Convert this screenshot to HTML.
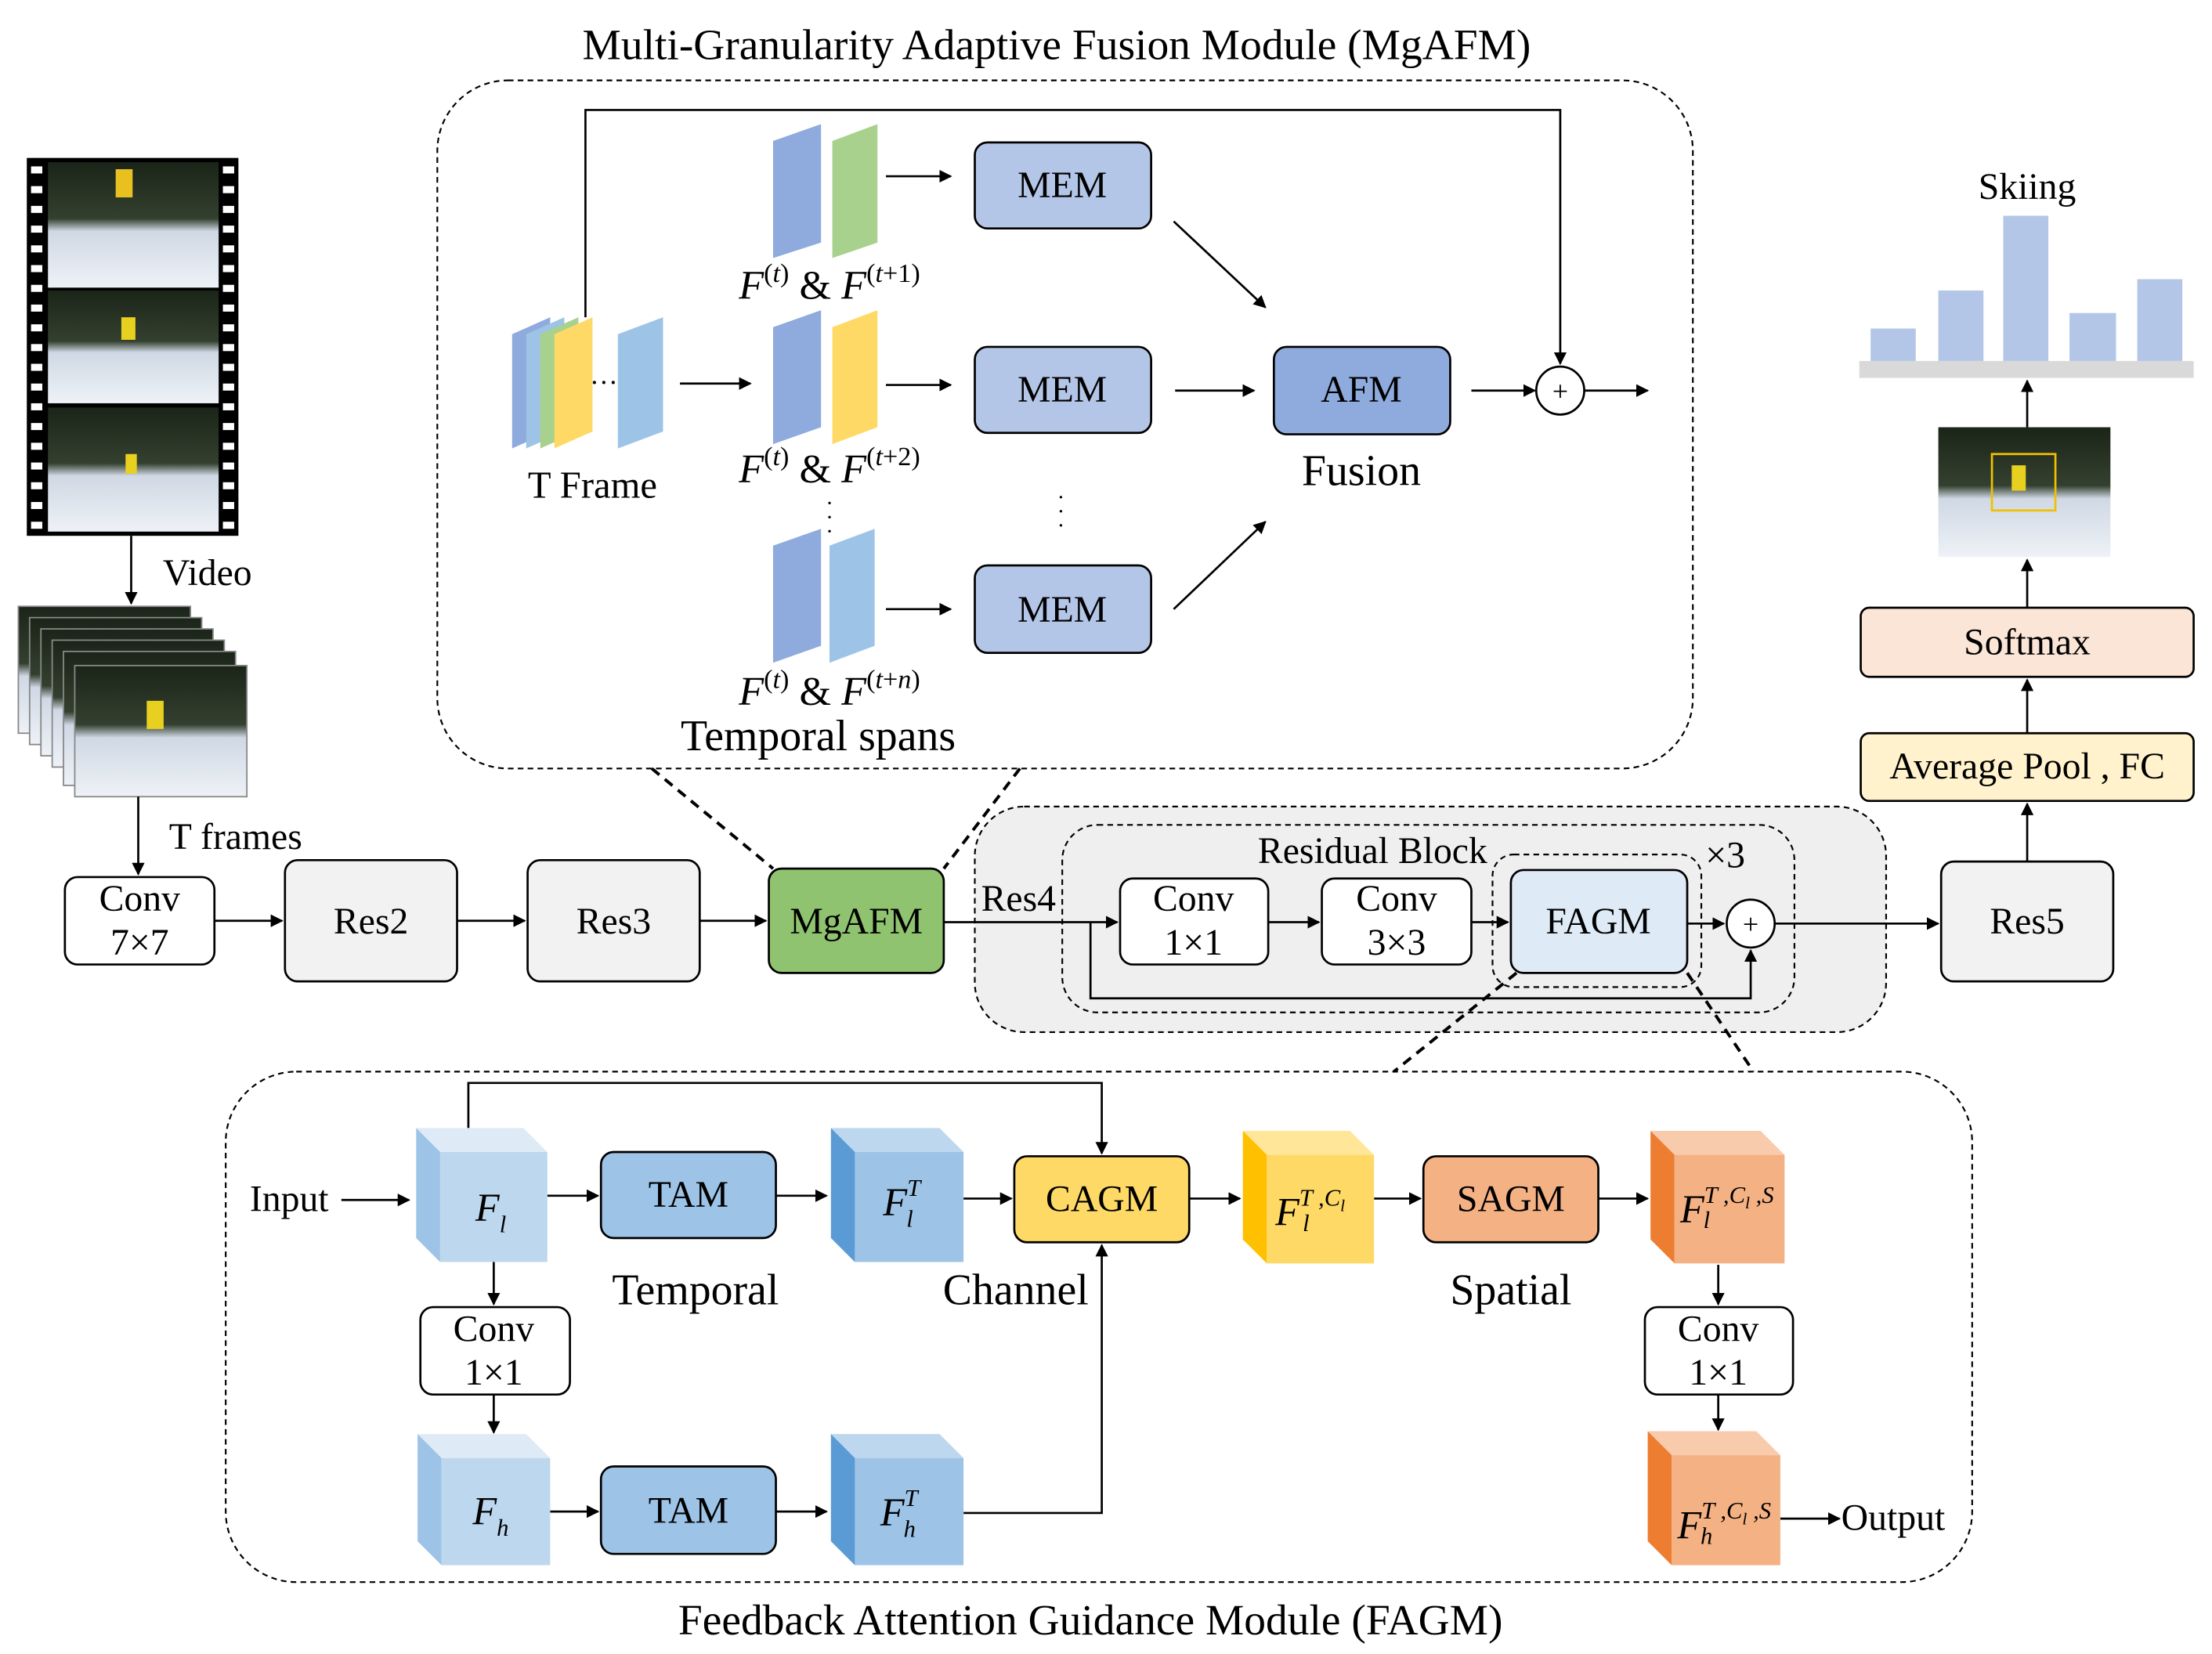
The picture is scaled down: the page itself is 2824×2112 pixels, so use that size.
<!DOCTYPE html>
<html><head><meta charset="utf-8"><style>html,body{margin:0;padding:0;background:#fff}svg{display:block}</style></head>
<body>
<svg xmlns="http://www.w3.org/2000/svg" width="2824" height="2112" viewBox="0 0 1568 1173" preserveAspectRatio="none" font-family="Liberation Serif, serif">
<defs>
<marker id="a" viewBox="0 0 10 10" refX="9" refY="5" markerWidth="9" markerHeight="9" markerUnits="userSpaceOnUse" orient="auto"><path d="M0,0L10,5L0,10z" fill="#000"/></marker>
<linearGradient id="ph" x1="0" y1="0" x2="0" y2="1"><stop offset="0" stop-color="#1a2418"/><stop offset="0.45" stop-color="#34402f"/><stop offset="0.55" stop-color="#cfd8e4"/><stop offset="1" stop-color="#eef2f7"/></linearGradient>
</defs>
<g stroke="#000" stroke-width="1.5" fill="none">
<rect x="310" y="57" width="890" height="488" rx="50" stroke-dasharray="4,3" stroke-width="1.2"/>
<polyline points="415,225 415,78 1106,78 1106,258" marker-end="url(#a)"/>
<circle cx="1106" cy="277" r="17" fill="#fff"/>
<line x1="482" y1="272" x2="532" y2="272" marker-end="url(#a)"/>
<line x1="628" y1="125" x2="674" y2="125" marker-end="url(#a)"/>
<line x1="628" y1="273" x2="674" y2="273" marker-end="url(#a)"/>
<line x1="628" y1="432" x2="674" y2="432" marker-end="url(#a)"/>
<line x1="832" y1="157" x2="897" y2="218" marker-end="url(#a)"/>
<line x1="832" y1="432" x2="897" y2="370" marker-end="url(#a)"/>
<line x1="833" y1="277" x2="889" y2="277" marker-end="url(#a)"/>
<line x1="1043" y1="277" x2="1088" y2="277" marker-end="url(#a)"/>
<line x1="1123" y1="277" x2="1168" y2="277" marker-end="url(#a)"/>
<rect x="691" y="101" width="125" height="61" rx="9" fill="#b4c6e7"/>
<rect x="691" y="246" width="125" height="61" rx="9" fill="#b4c6e7"/>
<rect x="691" y="401" width="125" height="62" rx="9" fill="#b4c6e7"/>
<rect x="903" y="246" width="125" height="62" rx="9" fill="#8faadc"/>
</g>
<g stroke="none">
<polygon points="363,237 390,225 390,306 363,318" fill="#8faadc"/>
<polygon points="373,237 400,225 400,306 373,318" fill="#9dc3e6"/>
<polygon points="383,237 410,225 410,306 383,318" fill="#a9d18e"/>
<polygon points="393,237 420,225 420,306 393,318" fill="#ffd966"/>
<polygon points="438,237 470,225 470,306 438,318" fill="#9dc3e6"/>
<polygon points="548,100 582,88 582,172 548,183" fill="#8faadc"/>
<polygon points="590,100 622,88 622,172 590,183" fill="#a9d18e"/>
<polygon points="548,232 582,220 582,303 548,315" fill="#8faadc"/>
<polygon points="590,232 622,220 622,303 590,315" fill="#ffd966"/>
<polygon points="548,387 582,375 582,458 548,470" fill="#8faadc"/>
<polygon points="588,387 620,375 620,458 588,470" fill="#9dc3e6"/>
</g>
<g font-size="26.5" text-anchor="middle" fill="#000">
<text x="749" y="42" font-size="30.8">Multi-Granularity Adaptive Fusion Module (MgAFM)</text>
<text x="428" y="278" font-size="20">···</text>
<text x="420" y="353" font-size="27">T Frame</text>
<text x="753" y="140">MEM</text>
<text x="753" y="285">MEM</text>
<text x="753" y="441">MEM</text>
<text x="965" y="285">AFM</text>
<text x="965" y="344" font-size="31">Fusion</text>
<text x="1106" y="284" font-size="20">+</text>
<text x="588" y="212" font-size="29"><tspan font-style="italic">F</tspan><tspan font-size="19" dy="-12">(</tspan><tspan font-size="19" font-style="italic">t</tspan><tspan font-size="19">)</tspan><tspan dy="12"> &amp; </tspan><tspan font-style="italic">F</tspan><tspan font-size="19" dy="-12">(</tspan><tspan font-size="19" font-style="italic">t</tspan><tspan font-size="19">+1)</tspan></text>
<text x="588" y="342" font-size="29"><tspan font-style="italic">F</tspan><tspan font-size="19" dy="-12">(</tspan><tspan font-size="19" font-style="italic">t</tspan><tspan font-size="19">)</tspan><tspan dy="12"> &amp; </tspan><tspan font-style="italic">F</tspan><tspan font-size="19" dy="-12">(</tspan><tspan font-size="19" font-style="italic">t</tspan><tspan font-size="19">+2)</tspan></text>
<text x="588" y="500" font-size="29"><tspan font-style="italic">F</tspan><tspan font-size="19" dy="-12">(</tspan><tspan font-size="19" font-style="italic">t</tspan><tspan font-size="19">)</tspan><tspan dy="12"> &amp; </tspan><tspan font-style="italic">F</tspan><tspan font-size="19" dy="-12">(</tspan><tspan font-size="19" font-style="italic">t</tspan><tspan font-size="19">+</tspan><tspan font-size="19" font-style="italic">n</tspan><tspan font-size="19">)</tspan></text>
<text x="580" y="532" font-size="31">Temporal spans</text>
<text x="588" y="362" font-size="16">·</text><text x="588" y="372" font-size="16">·</text><text x="588" y="382" font-size="16">·</text>
<text x="752" y="358" font-size="16">·</text><text x="752" y="368" font-size="16">·</text><text x="752" y="378" font-size="16">·</text>
</g>
<rect x="19" y="112" width="150" height="268" fill="#000"/>
<g fill="#fff">
<rect x="22" y="118" width="8" height="5"/><rect x="22" y="132" width="8" height="5"/><rect x="22" y="146" width="8" height="5"/><rect x="22" y="160" width="8" height="5"/><rect x="22" y="174" width="8" height="5"/><rect x="22" y="188" width="8" height="5"/><rect x="22" y="202" width="8" height="5"/><rect x="22" y="216" width="8" height="5"/><rect x="22" y="230" width="8" height="5"/><rect x="22" y="244" width="8" height="5"/><rect x="22" y="258" width="8" height="5"/><rect x="22" y="272" width="8" height="5"/><rect x="22" y="286" width="8" height="5"/><rect x="22" y="300" width="8" height="5"/><rect x="22" y="314" width="8" height="5"/><rect x="22" y="328" width="8" height="5"/><rect x="22" y="342" width="8" height="5"/><rect x="22" y="356" width="8" height="5"/><rect x="22" y="370" width="8" height="5"/>
<rect x="158" y="118" width="8" height="5"/><rect x="158" y="132" width="8" height="5"/><rect x="158" y="146" width="8" height="5"/><rect x="158" y="160" width="8" height="5"/><rect x="158" y="174" width="8" height="5"/><rect x="158" y="188" width="8" height="5"/><rect x="158" y="202" width="8" height="5"/><rect x="158" y="216" width="8" height="5"/><rect x="158" y="230" width="8" height="5"/><rect x="158" y="244" width="8" height="5"/><rect x="158" y="258" width="8" height="5"/><rect x="158" y="272" width="8" height="5"/><rect x="158" y="286" width="8" height="5"/><rect x="158" y="300" width="8" height="5"/><rect x="158" y="314" width="8" height="5"/><rect x="158" y="328" width="8" height="5"/><rect x="158" y="342" width="8" height="5"/><rect x="158" y="356" width="8" height="5"/><rect x="158" y="370" width="8" height="5"/>
</g>
<rect x="34" y="115" width="121" height="89" fill="url(#ph)"/>
<rect x="34" y="206" width="121" height="80" fill="url(#ph)"/>
<rect x="34" y="289" width="121" height="88" fill="url(#ph)"/>
<rect x="82" y="120" width="12" height="20" fill="#e8c020"/><rect x="86" y="225" width="10" height="16" fill="#e8d020"/><rect x="89" y="322" width="8" height="14" fill="#e8d020"/>
<g stroke="#888" stroke-width="1">
<rect x="13" y="430" width="122" height="90" fill="url(#ph)"/>
<rect x="21" y="438" width="122" height="90" fill="url(#ph)"/>
<rect x="29" y="446" width="122" height="90" fill="url(#ph)"/>
<rect x="37" y="454" width="122" height="90" fill="url(#ph)"/>
<rect x="45" y="462" width="122" height="95" fill="url(#ph)"/>
<rect x="53" y="472" width="122" height="93" fill="url(#ph)"/>
</g>
<rect x="104" y="497" width="12" height="20" fill="#e8d020"/>
<g stroke="#000" stroke-width="1.5" fill="none">
<line x1="93" y1="380" x2="93" y2="428" marker-end="url(#a)"/>
<line x1="98" y1="565" x2="98" y2="620" marker-end="url(#a)"/>
<rect x="691" y="572" width="646" height="160" rx="35" fill="#efefef" stroke-dasharray="4,3" stroke-width="1.2"/>
<rect x="753" y="585" width="519" height="133" rx="25" stroke-dasharray="4,3" stroke-width="1.2"/>
<rect x="1058" y="606" width="148" height="94" rx="15" stroke-dasharray="4,3" stroke-width="1.2"/>
<rect x="46" y="622" width="106" height="62" rx="9" fill="#fff"/>
<rect x="202" y="610" width="122" height="86" rx="9" fill="#f2f2f2"/>
<rect x="374" y="610" width="122" height="86" rx="9" fill="#f2f2f2"/>
<rect x="545" y="616" width="124" height="74" rx="9" fill="#8fc36f"/>
<rect x="794" y="623" width="105" height="61" rx="9" fill="#fff"/>
<rect x="937" y="623" width="106" height="61" rx="9" fill="#fff"/>
<rect x="1071" y="617" width="125" height="73" rx="9" fill="#deebf7"/>
<rect x="1376" y="611" width="122" height="85" rx="9" fill="#f2f2f2"/>
<rect x="1319" y="520" width="236" height="48" rx="6" fill="#fff2cc"/>
<rect x="1319" y="431" width="236" height="49" rx="6" fill="#fbe5d6"/>
<line x1="152" y1="653" x2="200" y2="653" marker-end="url(#a)"/>
<line x1="324" y1="653" x2="372" y2="653" marker-end="url(#a)"/>
<line x1="496" y1="653" x2="543" y2="653" marker-end="url(#a)"/>
<line x1="669" y1="654" x2="792" y2="654" marker-end="url(#a)"/>
<line x1="899" y1="654" x2="935" y2="654" marker-end="url(#a)"/>
<line x1="1043" y1="654" x2="1069" y2="654" marker-end="url(#a)"/>
<line x1="1196" y1="655" x2="1222" y2="655" marker-end="url(#a)"/>
<circle cx="1241" cy="655" r="17" fill="#fff"/>
<polyline points="773,654 773,708 1241,708 1241,674" marker-end="url(#a)"/>
<line x1="1258" y1="655" x2="1374" y2="655" marker-end="url(#a)"/>
<line x1="1437" y1="611" x2="1437" y2="570" marker-end="url(#a)"/>
<line x1="1437" y1="520" x2="1437" y2="482" marker-end="url(#a)"/>
<line x1="1437" y1="431" x2="1437" y2="397" marker-end="url(#a)"/>
<line x1="1437" y1="303" x2="1437" y2="270" marker-end="url(#a)"/>
<g stroke-dasharray="7,5" stroke-width="2.2">
<line x1="462" y1="545" x2="548" y2="616"/><line x1="723" y1="545" x2="669" y2="616"/>
<line x1="1075" y1="690" x2="988" y2="760"/><line x1="1196" y1="690" x2="1243" y2="760"/>
</g>
</g>
<rect x="1374" y="303" width="122" height="92" fill="url(#ph)"/>
<rect x="1412" y="322" width="45" height="40" fill="none" stroke="#f0c000" stroke-width="1.5"/>
<rect x="1426" y="330" width="10" height="18" fill="#e8d020"/>
<rect x="1318" y="256" width="237" height="12" fill="#d9d9d9"/>
<g fill="#b4c6e7"><rect x="1326" y="233" width="32" height="23"/><rect x="1374" y="206" width="32" height="50"/><rect x="1420" y="153" width="32" height="103"/><rect x="1467" y="222" width="33" height="34"/><rect x="1515" y="198" width="32" height="58"/></g>
<g font-size="26.5" text-anchor="middle" fill="#000">
<text x="147" y="415">Video</text>
<text x="167" y="602">T frames</text>
<text x="99" y="646">Conv</text><text x="99" y="677">7×7</text>
<text x="263" y="662">Res2</text><text x="435" y="662">Res3</text><text x="607" y="662">MgAFM</text>
<text x="722" y="646">Res4</text>
<text x="973" y="612">Residual Block</text><text x="1223" y="615">×3</text>
<text x="846" y="646">Conv</text><text x="846" y="677">1×1</text>
<text x="990" y="646">Conv</text><text x="990" y="677">3×3</text>
<text x="1133" y="662">FAGM</text>
<text x="1241" y="662" font-size="20">+</text>
<text x="1437" y="662">Res5</text>
<text x="1437" y="552">Average Pool , FC</text>
<text x="1437" y="464">Softmax</text>
<text x="1437" y="141">Skiing</text>
</g>
<g stroke="#000" stroke-width="1.5" fill="none">
<rect x="160" y="760" width="1238" height="362" rx="50" stroke-dasharray="4,3" stroke-width="1.2"/>
<line x1="242" y1="851" x2="290" y2="851" marker-end="url(#a)"/>
<line x1="388" y1="848" x2="424" y2="848" marker-end="url(#a)"/>
<line x1="550" y1="848" x2="586" y2="848" marker-end="url(#a)"/>
<line x1="683" y1="850" x2="717" y2="850" marker-end="url(#a)"/>
<line x1="843" y1="850" x2="879" y2="850" marker-end="url(#a)"/>
<line x1="974" y1="850" x2="1007" y2="850" marker-end="url(#a)"/>
<line x1="1133" y1="850" x2="1168" y2="850" marker-end="url(#a)"/>
<polyline points="332,800 332,768 781,768 781,818" marker-end="url(#a)"/>
<line x1="350" y1="895" x2="350" y2="925" marker-end="url(#a)"/>
<line x1="350" y1="989" x2="350" y2="1016" marker-end="url(#a)"/>
<line x1="390" y1="1072" x2="424" y2="1072" marker-end="url(#a)"/>
<line x1="550" y1="1072" x2="586" y2="1072" marker-end="url(#a)"/>
<polyline points="683,1073 781,1073 781,883" marker-end="url(#a)"/>
<line x1="1218" y1="897" x2="1218" y2="925" marker-end="url(#a)"/>
<line x1="1218" y1="989" x2="1218" y2="1014" marker-end="url(#a)"/>
<line x1="1262" y1="1077" x2="1304" y2="1077" marker-end="url(#a)"/>
<rect x="426" y="817" width="124" height="61" rx="9" fill="#9dc3e6"/>
<rect x="426" y="1040" width="124" height="62" rx="9" fill="#9dc3e6"/>
<rect x="719" y="820" width="124" height="61" rx="9" fill="#ffd966"/>
<rect x="1009" y="820" width="124" height="61" rx="9" fill="#f4b183"/>
<rect x="298" y="927" width="106" height="62" rx="9" fill="#fff"/>
<rect x="1166" y="927" width="105" height="62" rx="9" fill="#fff"/>
</g>
<g stroke="none">
<polygon points="295,800 371,800 388,817 312,817" fill="#deebf7"/><polygon points="295,800 312,817 312,895 295,878" fill="#9dc3e6"/><rect x="312" y="817" width="76" height="78" fill="#bdd7ee"/>
<polygon points="589,800 666,800 683,817 606,817" fill="#bdd7ee"/><polygon points="589,800 606,817 606,895 589,878" fill="#5b9bd5"/><rect x="606" y="817" width="77" height="78" fill="#9dc3e6"/>
<polygon points="881,802 957,802 974,819 898,819" fill="#ffe699"/><polygon points="881,802 898,819 898,896 881,879" fill="#ffc000"/><rect x="898" y="819" width="76" height="77" fill="#ffd966"/>
<polygon points="1170,802 1248,802 1265,819 1187,819" fill="#f8cbad"/><polygon points="1170,802 1187,819 1187,896 1170,879" fill="#ed7d31"/><rect x="1187" y="819" width="78" height="77" fill="#f4b183"/>
<polygon points="296,1017 373,1017 390,1034 313,1034" fill="#deebf7"/><polygon points="296,1017 313,1034 313,1110 296,1093" fill="#9dc3e6"/><rect x="313" y="1034" width="77" height="76" fill="#bdd7ee"/>
<polygon points="589,1017 666,1017 683,1034 606,1034" fill="#bdd7ee"/><polygon points="589,1017 606,1034 606,1110 589,1093" fill="#5b9bd5"/><rect x="606" y="1034" width="77" height="76" fill="#9dc3e6"/>
<polygon points="1168,1015 1245,1015 1262,1032 1185,1032" fill="#f8cbad"/><polygon points="1168,1015 1185,1032 1185,1110 1168,1093" fill="#ed7d31"/><rect x="1185" y="1032" width="77" height="78" fill="#f4b183"/>
</g>
<g font-size="26.5" text-anchor="middle" fill="#000">
<text x="205" y="859">Input</text>
<text x="488" y="856">TAM</text><text x="488" y="1080">TAM</text>
<text x="781" y="859">CAGM</text><text x="1071" y="859">SAGM</text>
<text x="493" y="925" font-size="31">Temporal</text><text x="720" y="925" font-size="31">Channel</text><text x="1071" y="925" font-size="31">Spatial</text>
<text x="350" y="951">Conv</text><text x="350" y="982">1×1</text>
<text x="1218" y="951">Conv</text><text x="1218" y="982">1×1</text>
<text x="1342" y="1085">Output</text>
<text x="773" y="1159" font-size="30.8">Feedback Attention Guidance Module (FAGM)</text>
<g font-style="italic" text-anchor="start" font-size="28">
<text x="337" y="866">F<tspan font-size="17" dy="8">l</tspan></text>
<text x="626" y="862">F<tspan font-size="17" dy="-14">T</tspan><tspan font-size="17" dx="-10" dy="22">l</tspan></text>
<text x="904" y="869">F<tspan font-size="17" dy="-14">T ,C</tspan><tspan font-size="12" dy="4">l</tspan><tspan font-size="17" dx="-30" dy="14">l</tspan></text>
<text x="1191" y="867">F<tspan font-size="17" dy="-14">T ,C</tspan><tspan font-size="12" dy="4">l</tspan><tspan font-size="17" dy="-4"> ,S</tspan><tspan font-size="17" dx="-50" dy="18">l</tspan></text>
<text x="335" y="1081">F<tspan font-size="17" dy="8">h</tspan></text>
<text x="624" y="1082">F<tspan font-size="17" dy="-14">T</tspan><tspan font-size="17" dx="-10" dy="22">h</tspan></text>
<text x="1189" y="1091">F<tspan font-size="17" dy="-14">T ,C</tspan><tspan font-size="12" dy="4">l</tspan><tspan font-size="17" dy="-4"> ,S</tspan><tspan font-size="17" dx="-50" dy="18">h</tspan></text>
</g>
</g>
</svg>
</body></html>
